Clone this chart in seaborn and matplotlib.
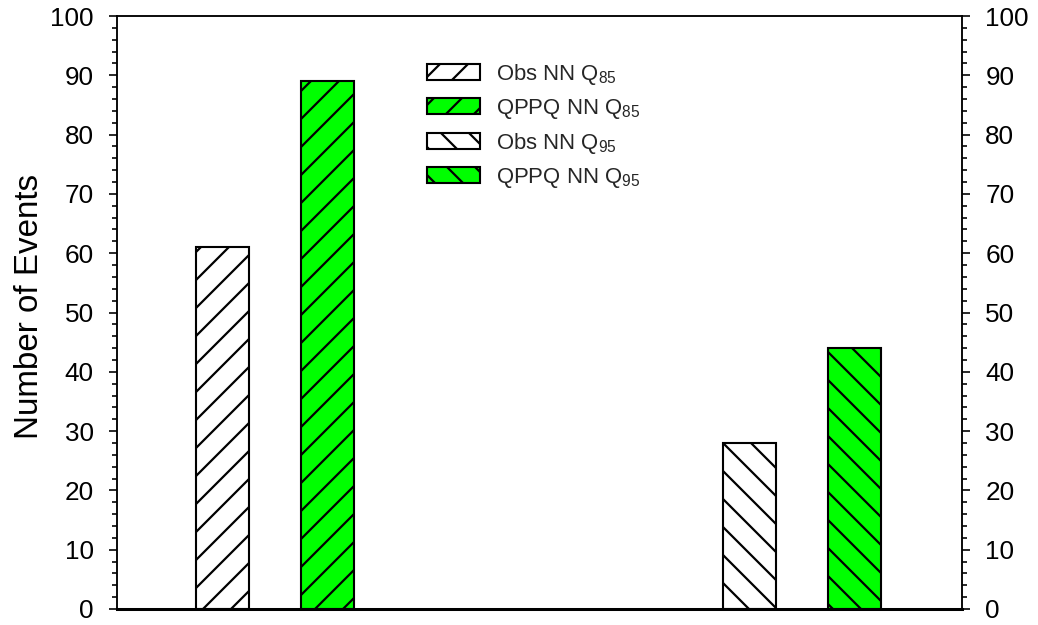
import matplotlib
matplotlib.use("Agg")
import matplotlib.pyplot as plt
from matplotlib.ticker import MultipleLocator
import seaborn as sns

# Event counts for each series
series_labels = [
    "Obs NN Q$_\\mathregular{85}$",
    "QPPQ NN Q$_\\mathregular{85}$",
    "Obs NN Q$_\\mathregular{95}$",
    "QPPQ NN Q$_\\mathregular{95}$",
]
bar_positions = [1, 2, 6, 7]
event_counts = [61, 89, 28, 44]
fill_colors = ["#FFFFFF", "#00FF00", "#FFFFFF", "#00FF00"]
hatches = ["//", "//", "\\\\", "\\\\"]
y_ticks = list(range(0, 101, 10))

DPI = 168
sns.set_theme(style="white")
plt.rcParams["font.family"] = ["Liberation Sans", "DejaVu Sans"]
plt.rcParams["mathtext.fontset"] = "custom"
plt.rcParams["mathtext.rm"] = "Liberation Sans"
plt.rcParams["hatch.linewidth"] = 0.95
plt.rcParams["hatch.color"] = "black"

fig = plt.figure(figsize=(1038 / DPI, 625 / DPI), dpi=DPI)
ax = fig.add_axes([117 / 1038, 16 / 625, 845 / 1038, 593 / 625])

sns.barplot(
    x=bar_positions, y=event_counts, hue=series_labels, hue_order=series_labels,
    palette=fill_colors, native_scale=True, dodge=False, width=0.5,
    saturation=1, edgecolor="black", linewidth=0.9, legend=False, ax=ax,
)

bars = list(ax.patches)
for bar, h in zip(bars, hatches):
    bar.set_hatch(h)

ax.set_xlim(0, 8.02)
ax.set_ylim(0, 100)
ax.set_xticks([])
ax.set_yticks(y_ticks)
ax.yaxis.set_minor_locator(MultipleLocator(2))

for side in ["left", "right", "top"]:
    ax.spines[side].set_visible(True)
    ax.spines[side].set_color("black")
    ax.spines[side].set_linewidth(0.8)
ax.spines["bottom"].set_color("black")
ax.spines["bottom"].set_linewidth(1.3)

ax.tick_params(axis="y", which="both", left=True, right=True,
               labelleft=True, labelright=True, direction="out",
               colors="black", labelsize=11.2, pad=6.5)
ax.tick_params(axis="y", which="major", length=3.5, width=0.7)
ax.tick_params(axis="y", which="minor", length=2.0, width=0.7)
ax.tick_params(axis="x", which="both", bottom=False, top=False)

ax.set_xlabel("")
ax.set_ylabel("Number of Events", fontsize=14.2, color="black")
ax.yaxis.set_label_coords(-0.085, 0.51)

ax.legend(
    bars, series_labels, loc="upper left",
    bbox_to_anchor=(427 / 1038, 1 - 62 / 625), bbox_transform=fig.transFigure,
    frameon=False, fontsize=9.5, handlelength=2.4, handleheight=0.7,
    handletextpad=0.72, labelspacing=0.45, borderpad=0, borderaxespad=0,
)

fig.savefig("out.png", dpi=DPI)
